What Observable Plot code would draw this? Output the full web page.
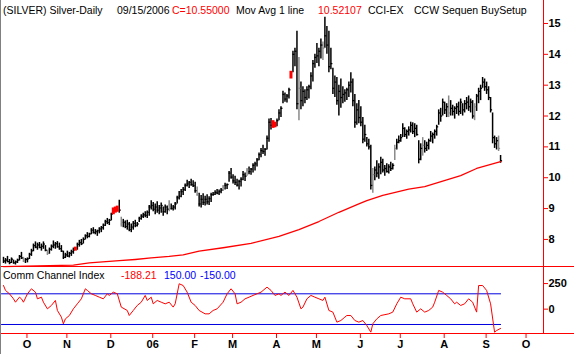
<!DOCTYPE html>
<html>
<head>
<meta charset="utf-8">
<script src="https://cdn.jsdelivr.net/npm/d3@7"></script>
<script src="https://cdn.jsdelivr.net/npm/@observablehq/plot@0.6"></script>
<style>
  html, body { margin: 0; padding: 0; background: #fff; }
  #chart { position: relative; width: 574px; height: 354px; background: #fff; overflow: hidden;
           font-family: "Liberation Sans", Arial, sans-serif; }
  .abs { position: absolute; }
  .txt { position: absolute; font-size: 10.5px; line-height: 13px; white-space: pre; }
  .hline { position: absolute; height: 1px; background: #ff0000; }
  svg { overflow: visible; }
</style>
</head>
<body>
<div id="chart">
  <div id="price" class="abs" style="left:0;top:0"></div>
  <div id="cci" class="abs" style="left:0;top:267px"></div>
  <div class="hline" style="left:0;top:266px;width:574px"></div>
  <div class="hline" style="left:0;top:333px;width:574px"></div>
  <div class="abs" style="left:543px;top:0;width:1px;height:334px;background:#ff0000"></div>
  <div class="abs" style="left:0;top:0;width:1px;height:354px;background:#808080"></div>
  <div id="header"></div>
  <div id="cciHeader"></div>
</div>
<script>
// ---- Data ----
// daily bars, index 0 = 19 Sep 2005 ... index 249 = 15 Sep 2006
const high = [
 7.42,7.38,7.45,7.35,7.40,7.33,7.30,7.36,7.48,7.58,
 7.42,7.38,7.40,7.55,7.68,7.85,7.92,7.88,7.90,7.85,
 7.92,7.80,7.65,7.72,7.82,7.95,7.90,7.93,7.88,7.80,
 7.62,7.55,7.62,7.58,7.65,7.72,7.75,7.88,7.97,8.00,
 8.05,8.15,8.22,8.20,8.35,8.38,8.32,8.30,8.38,8.42,
 8.50,8.62,8.68,8.65,8.85,9.02,9.05,9.08,9.27,8.72,
 8.65,8.60,8.62,8.55,8.50,8.58,8.62,8.55,8.72,8.80,
 8.85,8.90,8.92,9.10,9.25,9.20,9.15,9.22,9.10,9.18,
 9.05,9.12,9.08,9.25,9.15,9.10,9.20,9.40,9.55,9.62,
 9.68,9.80,9.92,9.88,9.95,9.90,9.85,9.70,9.50,9.42,
 9.48,9.40,9.45,9.38,9.50,9.52,9.58,9.62,9.60,9.65,
 9.75,9.82,9.80,10.20,10.30,10.10,10.05,9.95,9.92,10.00,
 10.20,10.15,10.30,10.35,10.30,10.45,10.50,10.62,10.80,10.95,
 11.05,10.95,11.35,11.90,11.92,11.85,11.80,11.90,12.20,12.30,
 12.80,12.75,12.70,12.90,13.45,14.10,14.20,14.75,13.90,13.10,
 12.95,12.85,12.95,13.00,13.40,13.80,14.00,14.35,14.20,14.50,
 14.40,15.20,14.90,14.75,14.20,13.55,13.30,13.25,13.00,13.20,
 12.95,12.85,12.90,13.10,13.40,13.20,12.70,12.40,12.50,12.30,
 11.95,11.70,11.30,11.25,11.05,10.30,10.35,10.55,10.45,10.66,
 10.60,10.40,10.45,10.42,10.50,10.45,11.05,11.25,11.35,11.40,
 11.75,11.62,11.55,11.65,11.80,11.78,11.75,11.70,11.20,11.10,
 11.30,11.20,11.15,11.25,11.50,11.45,11.55,11.70,12.20,12.25,
 12.55,12.45,12.40,12.65,12.50,12.35,12.30,12.40,12.45,12.55,
 12.40,12.50,12.60,12.65,12.55,12.50,12.40,12.70,12.90,13.00,
 13.25,13.20,13.10,12.95,12.60,12.10,11.35,11.30,11.35,10.72
];
const low = [
 7.22,7.20,7.25,7.18,7.22,7.20,7.17,7.22,7.30,7.35,
 7.25,7.22,7.24,7.35,7.45,7.60,7.70,7.65,7.70,7.62,
 7.68,7.60,7.48,7.52,7.62,7.70,7.68,7.72,7.65,7.58,
 7.35,7.38,7.42,7.40,7.45,7.52,7.62,7.65,7.75,7.80,
 7.85,7.98,8.02,8.05,8.15,8.18,8.15,8.10,8.18,8.22,
 8.30,8.42,8.48,8.45,8.60,8.80,8.85,8.88,8.85,8.40,
 8.38,8.35,8.30,8.25,8.22,8.30,8.38,8.40,8.55,8.62,
 8.68,8.70,8.68,8.75,8.95,8.90,8.80,8.85,8.80,8.85,
 8.75,8.85,8.80,8.90,8.95,8.92,8.95,9.15,9.28,9.35,
 9.42,9.55,9.70,9.65,9.72,9.68,9.50,9.40,9.05,9.02,
 9.10,9.08,9.12,9.10,9.20,9.40,9.42,9.45,9.42,9.48,
 9.55,9.60,9.62,9.85,9.95,9.80,9.75,9.70,9.60,9.70,
 9.90,9.88,10.05,10.10,10.08,10.15,10.22,10.35,10.55,10.65,
 10.75,10.70,10.90,11.15,11.55,11.60,11.62,11.65,11.85,11.95,
 12.40,12.45,12.42,12.55,13.20,13.40,13.60,12.20,11.85,12.20,
 12.30,12.40,12.50,12.55,12.85,13.10,13.55,13.70,13.60,13.85,
 13.80,14.20,14.00,13.40,13.50,12.70,12.60,12.35,12.00,12.25,
 12.40,12.45,12.50,12.60,12.75,12.30,11.60,11.70,11.75,11.65,
 11.10,11.15,11.00,10.90,9.60,9.50,9.90,10.00,9.95,10.10,
 10.15,10.05,10.15,10.12,10.20,10.25,10.56,10.90,11.10,11.15,
 11.30,11.30,11.25,11.35,11.45,11.40,11.30,11.35,10.45,10.55,
 10.70,10.80,10.85,10.90,11.15,11.10,11.25,11.35,11.70,11.80,
 12.00,12.05,11.95,11.95,12.00,12.00,11.90,12.05,12.00,12.05,
 12.00,12.10,12.20,12.15,12.10,11.90,11.85,12.15,12.40,12.50,
 12.90,12.80,12.70,12.50,12.10,11.10,10.95,10.90,10.85,10.47
];
const close = [
 7.30,7.33,7.28,7.25,7.36,7.24,7.27,7.33,7.45,7.40,
 7.30,7.35,7.37,7.52,7.63,7.80,7.75,7.82,7.74,7.78,
 7.85,7.65,7.55,7.68,7.78,7.82,7.86,7.76,7.70,7.62,
 7.42,7.50,7.46,7.55,7.60,7.66,7.70,7.84,7.90,7.86,
 8.00,8.12,8.10,8.18,8.30,8.22,8.25,8.28,8.34,8.38,
 8.46,8.58,8.55,8.62,8.82,8.95,8.92,9.00,8.95,8.50,
 8.55,8.42,8.50,8.32,8.40,8.52,8.45,8.50,8.68,8.75,
 8.80,8.78,8.88,9.05,9.10,8.98,9.05,8.95,9.02,9.10,
 8.90,9.05,8.98,9.12,9.00,9.05,9.15,9.35,9.40,9.55,
 9.62,9.75,9.80,9.85,9.78,9.74,9.58,9.45,9.15,9.30,
 9.20,9.30,9.22,9.32,9.45,9.46,9.52,9.50,9.55,9.60,
 9.70,9.75,9.78,10.15,10.02,9.90,9.85,9.76,9.88,9.95,
 10.10,10.05,10.25,10.20,10.28,10.40,10.45,10.58,10.75,10.88,
 10.85,10.92,11.28,11.80,11.70,11.68,11.75,11.85,12.10,12.25,
 12.70,12.55,12.65,12.85,13.40,14.00,14.10,12.40,12.90,12.50,
 12.80,12.60,12.85,12.95,13.30,13.70,13.90,13.95,14.10,14.30,
 14.20,14.60,14.30,13.60,13.70,12.90,13.10,12.50,12.80,12.60,
 12.70,12.75,12.85,13.00,13.10,12.50,11.80,12.20,11.95,11.80,
 11.25,11.40,11.10,11.00,9.75,10.10,10.25,10.15,10.35,10.50,
 10.25,10.30,10.20,10.35,10.30,10.40,10.95,11.15,11.20,11.30,
 11.60,11.40,11.50,11.55,11.70,11.50,11.60,11.40,10.60,10.95,
 11.05,10.95,11.05,11.20,11.35,11.40,11.50,11.65,12.10,12.00,
 12.45,12.20,12.30,12.10,12.25,12.15,12.25,12.30,12.15,12.45,
 12.20,12.40,12.45,12.30,12.45,12.00,12.30,12.65,12.80,12.90,
 13.10,12.95,12.85,12.60,12.20,11.30,11.10,11.20,10.95,10.55
];
// bars flagged by the "CCW Sequen BuySetup" study (red) and grey bars
const setupBars = [36, 55, 56, 57, 135, 136, 144];
const grayBars = [10, 22, 59, 83, 97, 110, 122, 148, 160, 185, 196, 210, 223, 236, 248];

// moving average (1 line)
const maIdx = [0,17,35,43,58,66,74,83,90,98,110,124,138,148,158,168,178,182,190,203,211,220,229,237,249];
const maVal = [7.12,7.14,7.17,7.24,7.31,7.35,7.40,7.45,7.50,7.62,7.73,7.87,8.10,8.32,8.58,8.88,9.15,9.26,9.43,9.63,9.71,9.89,10.07,10.30,10.52];

// Commodity Channel Index
const cciIdx = [0,1,3,5,6,8,9,10,12,14,16,17,19,20,22,24,26,27,29,30,31,33,35,37,39,41,42,44,46,48,
 50,52,53,55,57,59,62,63,65,67,69,71,72,74,75,77,79,81,83,85,86,88,90,92,94,96,98,101,103,105,
 107,110,112,114,116,117,119,121,123,125,127,129,132,134,136,138,139,141,143,145,147,149,150,152,154,156,158,160,161,163,
 165,167,169,171,172,174,176,178,180,182,184,185,187,189,193,195,197,199,201,204,205,207,209,211,213,215,216,218,220,222,
 224,226,227,229,231,233,235,237,238,240,242,244,246,247,249];
const cciVal = [231,183,150,101,68,117,101,68,150,199,166,101,117,68,3,36,85,-13,-78,-143,-95,-62,3,52,101,199,183,150,134,117,
 101,150,134,166,150,20,-13,-62,-13,36,68,134,85,117,52,85,68,52,68,20,52,248,231,166,68,36,-13,-46,-46,-13,
 3,68,150,199,150,52,68,101,117,134,150,166,215,183,134,150,134,166,134,183,117,3,20,101,134,117,101,85,117,-13,
 -29,-127,-111,-78,-62,-62,-111,-127,-111,-160,-225,-143,-95,-62,-46,-29,52,117,101,101,52,-29,3,-29,-13,20,68,183,166,134,
 101,52,68,36,52,101,68,-29,231,231,183,52,-225,-209,-188.21];
const cciLevels = [150, -150];

// axis ticks
const priceTicks = [8, 9, 10, 11, 12, 13, 14, 15];
const cciTicks = [0, 250];
const monthTickIdx = [10, 30, 52, 73, 94, 113, 135, 155, 177, 197, 219, 240, 260];
const monthLabels = ["O", "N", "D", "06", "F", "M", "A", "M", "J", "J", "A", "S", "O"];

// header texts
const headerParts = [
  {t: "(SILVER) Silver-Daily", x: 3, c: "#000"},
  {t: "09/15/2006", x: 117, c: "#000"},
  {t: "C=10.55000", x: 172, c: "#ff0000"},
  {t: "Mov Avg 1 line", x: 236, c: "#000"},
  {t: "10.52107", x: 318, c: "#ff0000"},
  {t: "CCI-EX", x: 368, c: "#000"},
  {t: "CCW Sequen BuySetup", x: 414, c: "#000"}
];
const cciParts = [
  {t: "Comm Channel Index", x: 3, c: "#000"},
  {t: "-188.21", x: 121, c: "#ff0000"},
  {t: "150.00", x: 164, c: "#0000ff"},
  {t: "-150.00", x: 200, c: "#0000ff"}
];

// ---- Build ----
const bars = high.map((h, i) => ({
  i, high: h, low: low[i], close: close[i],
  kind: setupBars.includes(i) ? "setup" : grayBars.includes(i) ? "gray" : "plain"
}));
const ma = maIdx.map((i, k) => ({i, v: maVal[k]}));
const cci = cciIdx.map((i, k) => ({i, v: cciVal[k]}));
const levelPts = cciLevels.flatMap(v => [{i: -1, v}, {i: high.length - 1, v}]);
const monthMap = new Map(monthTickIdx.map((d, k) => [d, monthLabels[k]]));

const xOpts = {type: "band", domain: d3.range(-1, 271), padding: 0, axis: null};
const kindColor = {domain: ["plain", "gray", "setup"], range: ["#000000", "#8a8a8a", "#ff0000"]};
const fontStyle = {fontFamily: "Liberation Sans, Arial, sans-serif", fontSize: "11px", background: "transparent", overflow: "visible"};

const pricePlot = Plot.plot({
  width: 574, height: 267,
  marginLeft: 0, marginRight: 31, marginTop: 0, marginBottom: 0,
  x: xOpts,
  y: {domain: [7.09, 15.745], axis: null},
  color: kindColor,
  style: fontStyle,
  marks: [
    Plot.ruleX(bars.filter(d => d.kind !== "setup"), {x: "i", y1: "low", y2: "high", stroke: "kind", strokeWidth: 1.5}),
    Plot.tickY(bars.filter(d => d.kind !== "setup"), {x: "i", y: "close", stroke: "kind", strokeWidth: 1.3, dx: 1}),
    Plot.ruleX(bars.filter(d => d.kind === "setup"), {x: "i", y1: "low", y2: "high", stroke: "kind", strokeWidth: 3}),
    Plot.line(ma, {x: "i", y: "v", stroke: "#ff0000", strokeWidth: 1.3}),
    Plot.axisY({anchor: "right", label: null, ticks: priceTicks, tickSize: 4, tickPadding: 1, stroke: "#ff0000", fill: "#000", fontWeight: "bold", fontSize: 11})
  ]
});
document.getElementById("price").appendChild(pricePlot);

const cciPlot = Plot.plot({
  width: 574, height: 87,
  marginLeft: 0, marginRight: 31, marginTop: 0, marginBottom: 21,
  x: xOpts,
  y: {domain: [-238, 407], axis: null},
  style: fontStyle,
  marks: [
    Plot.line(levelPts, {x: "i", y: "v", z: "v", stroke: "#0000e0", strokeWidth: 1}),
    Plot.line(cci, {x: "i", y: "v", stroke: "#ff0000", strokeWidth: 1}),
    Plot.axisY({anchor: "right", label: null, ticks: cciTicks, tickSize: 4, tickPadding: 1, stroke: "#ff0000", fill: "#000", fontWeight: "bold", fontSize: 11}),
    Plot.axisX({anchor: "bottom", label: null, ticks: monthTickIdx, tickFormat: d => monthMap.get(d), tickSize: 5, tickPadding: 2,
                stroke: "#ff0000", fill: "#000", fontWeight: "bold", fontSize: 11, textAnchor: "middle", dx: 3.5})
  ]
});
document.getElementById("cci").appendChild(cciPlot);

function addTexts(parts, top, parentId) {
  const parent = document.getElementById(parentId);
  for (const p of parts) {
    const s = document.createElement("div");
    s.className = "txt";
    s.style.left = p.x + "px";
    s.style.top = top + "px";
    s.style.color = p.c;
    s.textContent = p.t;
    parent.appendChild(s);
  }
}
addTexts(headerParts, 4, "header");
addTexts(cciParts, 269, "cciHeader");
</script>
</body>
</html>
